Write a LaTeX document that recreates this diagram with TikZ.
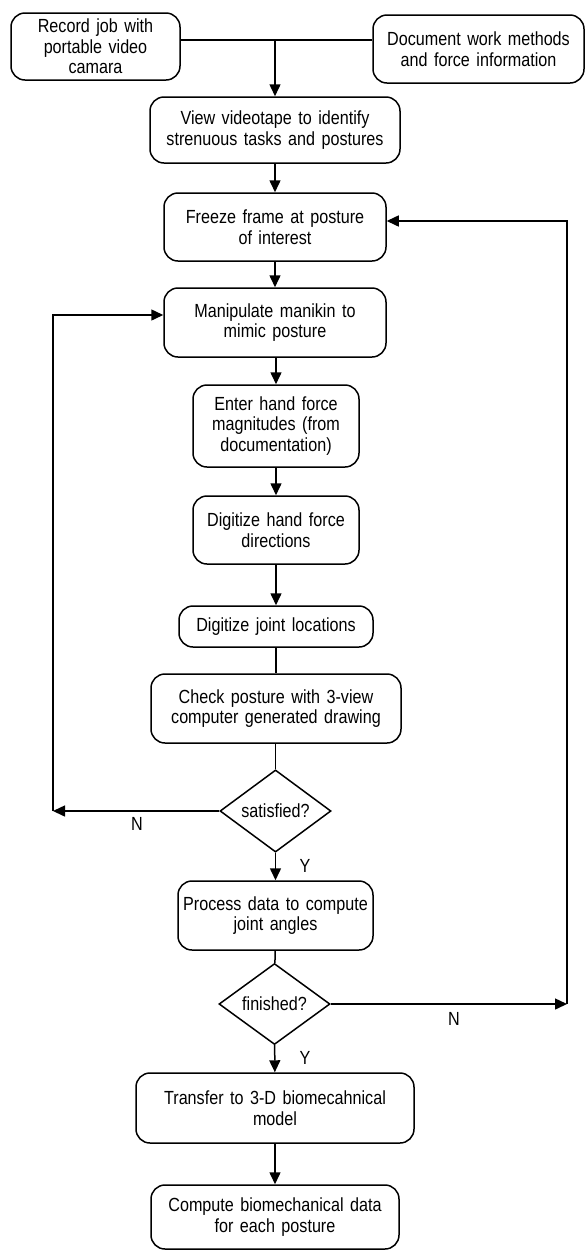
\documentclass[tikz,border=0pt]{standalone}
\usepackage{fontspec}
\setmainfont{Liberation Sans}[FakeStretch=0.85,WordSpace=1.45]
\usetikzlibrary{shapes.geometric,arrows.meta}
\begin{document}
\begin{tikzpicture}[x=1pt,y=-1pt,
  box/.style={draw,line width=1.5pt,rounded corners=14pt,align=center,inner sep=0pt,
    font=\fontsize{19}{20.5}\selectfont},
  dia/.style={draw,line width=1.5pt,diamond,inner sep=0pt,font=\fontsize{19}{20.5}\selectfont},
  arr/.style={line width=1.5pt,-{Triangle[length=12pt,width=11pt]}},
  ln/.style={line width=1.5pt},
  lbl/.style={font=\fontsize{19}{20.5}\selectfont,inner sep=0pt}]
\useasboundingbox (0,0) rectangle (586,1251);
\node[box,minimum width=169pt,minimum height=67pt] (rec) at (95.5,46.5) {Record job with\\portable video\\camara};
\node[box,minimum width=211pt,minimum height=68pt] (doc) at (478.5,49) {Document work methods\\and force information};
\node[box,minimum width=250pt,minimum height=66pt] (view) at (275,130) {View videotape to identify\\strenuous tasks and postures};
\node[box,minimum width=222pt,minimum height=68pt] (frz) at (275,227) {Freeze frame at posture\\of interest};
\node[box,minimum width=222pt,minimum height=69pt] (man) at (275,322.5) {Manipulate manikin to\\mimic posture};
\node[box,minimum width=166pt,minimum height=82pt] (ent) at (276,426) {Enter hand force\\magnitudes (from\\documentation)};
\node[box,minimum width=166pt,minimum height=68pt] (dhf) at (276,530) {Digitize hand force\\directions};
\node[box,minimum width=194pt,minimum height=41pt] (djl) at (276,626.5) {Digitize joint locations};
\node[box,minimum width=250pt,minimum height=69pt] (chk) at (276,708.5) {Check posture with 3-view\\computer generated drawing};
\node[dia,minimum width=111pt,minimum height=82pt] (sat) at (275.5,811) {satisfied?};
\node[box,minimum width=195pt,minimum height=69pt] (proc) at (275.5,915.5) {Process data to compute\\joint angles};
\node[dia,minimum width=111pt,minimum height=81pt] (fin) at (274.5,1004) {finished?};
\node[box,minimum width=278pt,minimum height=70pt] (trn) at (275,1108) {Transfer to 3-D biomecahnical\\model};
\node[box,minimum width=248pt,minimum height=64pt] (cmp) at (275,1217) {Compute biomechanical data\\for each posture};

\coordinate (j) at (275,40);
\coordinate (cl) at (53,811);
\coordinate (cr) at (567,1004);

\draw[ln] (rec.east |- j) -- (doc.west |- j);
\draw[arr] (j) -- (j |- view.north);
\draw[arr] (view) -- (frz);
\draw[arr] (frz) -- (man);
\draw[arr] (man.south -| ent.north) -- (ent.north);
\draw[arr] (ent) -- (dhf);
\draw[arr] (dhf) -- (djl);
\draw[ln] (djl) -- (chk);
\draw[ln] (chk.south -| sat.north) -- (sat.north);
\draw[arr] (sat) -- (proc);
\draw[ln] (proc) -- (fin);
\draw[arr] (fin) -- (trn);
\draw[arr] (trn) -- (cmp);

\draw[arr] (sat.west) -- (cl |- sat.west);
\draw[arr] (cl) |- ([yshift=7.5pt]man.west);
\draw[arr] (fin.east) -- (cr |- fin.east);
\draw[arr] (cr) |- ([yshift=6pt]frz.east);

\node[lbl] (n1) at (137,824) {N};
\node[lbl] (y1) at (305,866) {Y};
\node[lbl] (n2) at (454,1019) {N};
\node[lbl] (y2) at (305,1058) {Y};
\end{tikzpicture}
\end{document}
